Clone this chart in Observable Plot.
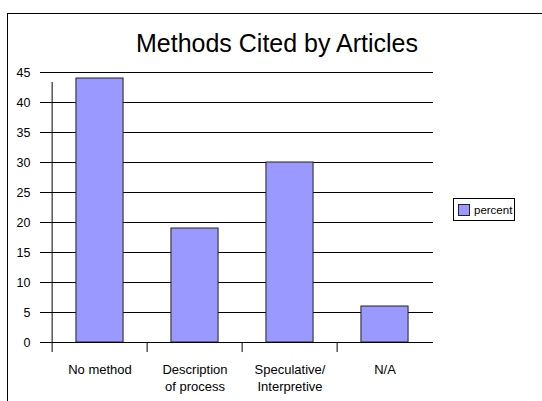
<!DOCTYPE html>
<html>
<head>
<meta charset="utf-8">
<script src="https://cdn.jsdelivr.net/npm/d3@7"></script>
<script src="https://cdn.jsdelivr.net/npm/@observablehq/plot@0.6"></script>
<style>
  html, body { margin: 0; padding: 0; background: #fff; }
  body { width: 542px; height: 401px; position: relative; overflow: hidden;
         font-family: "Liberation Sans", Arial, sans-serif; }
  #frame { position: absolute; left: 7px; top: 13px; width: 540px; height: 400px;
           border-top: 1px solid #000; border-left: 1px solid #000; }
  #title { position: absolute; left: 7px; width: 540px; top: 31px; text-align: center;
           font-size: 25px; color: #000; line-height: 1; }
  #chart { position: absolute; left: 0; top: 0; }
  #legend { position: absolute; left: 453px; top: 198px; width: 60px; height: 21px;
            border: 1px solid #000; display: flex; align-items: center; font-size: 11.5px; }
  #legend .sw { width: 10px; height: 10px; background: #9999ff; border: 1px solid #222;
                margin: 0 4px 0 4px; }
</style>
</head>
<body>
<div id="frame"></div>
<div id="chart"></div>
<div id="title">Methods Cited by Articles</div>
<div id="legend"><span class="sw"></span><span>percent</span></div>
<script>
// Share of articles by cited method
const categories = ["No method", "Description\nof process", "Speculative/\nInterpretive", "N/A"];
const percent = [44, 19, 30, 6];
const yTicks = [0, 5, 10, 15, 20, 25, 30, 35, 40, 45];
const seriesName = "percent";

const rows = categories.map((c, i) => ({category: c, value: percent[i]}));

const W = 542, H = 401;
const mL = 50, mR = 109, mT = 72, mB = 59;
const band = (W - mL - mR) / categories.length;

const chart = Plot.plot({
  width: W,
  height: H,
  marginLeft: mL,
  marginRight: mR,
  marginTop: mT,
  marginBottom: mB,
  style: {fontFamily: "'Liberation Sans', Arial, sans-serif", fontSize: "12px", background: "transparent", color: "#000"},
  x: {type: "band", domain: categories, padding: 0, axis: null},
  y: {type: "linear", domain: [0, 45], axis: null},
  marks: [
    // horizontal gridlines with their outer tick
    Plot.ruleY(yTicks, {stroke: "#000", strokeWidth: 1, insetLeft: -10}),
    // y tick labels
    Plot.text(yTicks, {y: d => d, frameAnchor: "left", dx: -20, textAnchor: "end", fontSize: 12.5, text: d => String(d)}),
    // bars
    Plot.barY(rows, {x: "category", y: "value", fill: "#9999ff", stroke: "#222", strokeWidth: 1,
                     insetLeft: band / 4, insetRight: band / 4}),
    // category boundary ticks below the axis
    Plot.ruleX(categories, {x: d => d, y1: 0, y2: 0, dx: -band / 2, stroke: "#000", insetBottom: -10}),
    // axis lines
    Plot.ruleY([0], {stroke: "#000"}),
    Plot.ruleX([categories[0]], {dx: -band / 2, y1: 0, y2: 45, stroke: "#000", insetBottom: -10}),
    // category labels
    Plot.text(rows, {x: "category", y: 0, text: "category", dy: 20, lineAnchor: "top",
                     lineHeight: 1.27, fontSize: 13})
  ]
});
document.getElementById("chart").appendChild(chart);
</script>
</body>
</html>
